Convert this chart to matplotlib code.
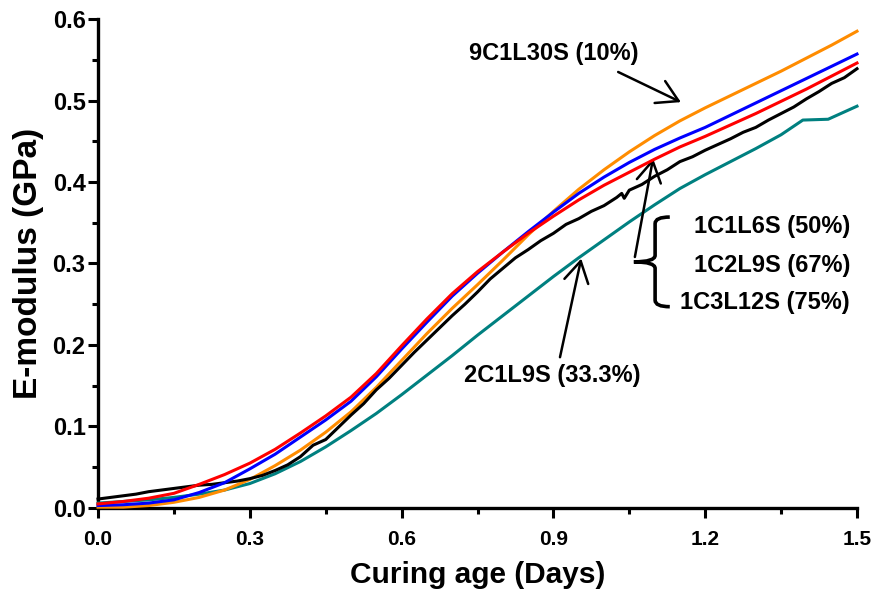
import matplotlib
matplotlib.use("Agg")
import matplotlib.pyplot as plt
from matplotlib.path import Path
from matplotlib.patches import PathPatch
from matplotlib.ticker import MultipleLocator

plt.rcParams['font.family'] = ['Liberation Sans', 'DejaVu Sans']
plt.rcParams['font.weight'] = 'bold'

# ---- data ----
x_std = [0.0, 0.05, 0.1, 0.15, 0.2, 0.25, 0.3, 0.35, 0.4, 0.45, 0.5, 0.55, 0.6,
         0.65, 0.7, 0.75, 0.8, 0.85, 0.9, 0.95, 1.0, 1.05, 1.1, 1.15, 1.2, 1.25,
         1.3, 1.35, 1.4, 1.45, 1.5]

red_1c1l6s = [0.005, 0.008, 0.012, 0.018, 0.029, 0.041, 0.055, 0.072, 0.092, 0.113,
              0.136, 0.165, 0.199, 0.232, 0.263, 0.290, 0.314, 0.337, 0.358, 0.378,
              0.396, 0.412, 0.428, 0.443, 0.456, 0.470, 0.484, 0.499, 0.514, 0.530, 0.546]

blue_1c2l9s = [0.003, 0.004, 0.006, 0.010, 0.019, 0.031, 0.048, 0.066, 0.087, 0.108,
               0.131, 0.161, 0.195, 0.228, 0.260, 0.288, 0.314, 0.339, 0.363, 0.386,
               0.406, 0.424, 0.440, 0.454, 0.467, 0.482, 0.497, 0.512, 0.527, 0.542, 0.557]

orange_9c1l30s = [0.001, 0.001, 0.003, 0.007, 0.013, 0.022, 0.035, 0.052, 0.071, 0.093,
                  0.118, 0.148, 0.181, 0.214, 0.245, 0.274, 0.304, 0.335, 0.364, 0.391,
                  0.415, 0.437, 0.457, 0.475, 0.491, 0.506, 0.521, 0.536, 0.552, 0.568, 0.585]

x_teal = [0.0, 0.05, 0.1, 0.15, 0.2, 0.25, 0.3, 0.35, 0.4, 0.45, 0.5, 0.55, 0.6,
          0.65, 0.7, 0.75, 0.8, 0.85, 0.9, 0.95, 1.0, 1.05, 1.1, 1.15, 1.2, 1.25,
          1.3, 1.35, 1.393, 1.443, 1.5]
teal_2c1l9s = [0.006, 0.008, 0.010, 0.013, 0.017, 0.022, 0.030, 0.042, 0.057, 0.075,
               0.095, 0.116, 0.139, 0.163, 0.187, 0.212, 0.236, 0.260, 0.284, 0.307,
               0.329, 0.351, 0.372, 0.392, 0.409, 0.425, 0.441, 0.458, 0.476, 0.477, 0.493]

x_black = [0.000, 0.025, 0.050, 0.075, 0.100, 0.125, 0.150, 0.175, 0.200, 0.225,
           0.250, 0.275, 0.300, 0.325, 0.350, 0.375, 0.400, 0.425, 0.450, 0.475,
           0.500, 0.525, 0.550, 0.575, 0.600, 0.625, 0.650, 0.675, 0.700, 0.725,
           0.750, 0.775, 0.800, 0.825, 0.850, 0.875, 0.900, 0.925, 0.950, 0.975,
           1.000, 1.025, 1.035, 1.040, 1.050, 1.075, 1.100, 1.125, 1.150, 1.175,
           1.200, 1.225, 1.250, 1.275, 1.300, 1.325, 1.350, 1.375, 1.400, 1.425,
           1.450, 1.475, 1.500]
black_1c3l12s = [0.011, 0.013, 0.015, 0.017, 0.020, 0.022, 0.024, 0.026, 0.028, 0.029,
                 0.031, 0.033, 0.036, 0.040, 0.046, 0.053, 0.063, 0.077, 0.084, 0.099,
                 0.114, 0.128, 0.145, 0.159, 0.175, 0.191, 0.206, 0.221, 0.236, 0.250,
                 0.265, 0.281, 0.294, 0.307, 0.317, 0.328, 0.337, 0.348, 0.355, 0.364,
                 0.371, 0.381, 0.386, 0.380, 0.390, 0.397, 0.407, 0.415, 0.425, 0.431,
                 0.439, 0.446, 0.453, 0.461, 0.467, 0.476, 0.484, 0.492, 0.502, 0.511,
                 0.521, 0.528, 0.539]

x_ticks = [0.0, 0.3, 0.6, 0.9, 1.2, 1.5]
y_ticks = [0.0, 0.1, 0.2, 0.3, 0.4, 0.5, 0.6]

# ---- figure ----
fig = plt.figure(figsize=(8.76, 5.92), dpi=100)
ax = fig.add_axes([0.1119, 0.1419, 0.8664, 0.826])

lw = 2.2
ax.plot(x_teal, teal_2c1l9s, color='#008080', lw=lw, zorder=3, clip_on=False)
ax.plot(x_std, orange_9c1l30s, color='#FF8C00', lw=lw, zorder=4, clip_on=False)
ax.plot(x_black, black_1c3l12s, color='black', lw=lw, zorder=5, clip_on=False)
ax.plot(x_std, blue_1c2l9s, color='#0000FF', lw=lw, zorder=6, clip_on=False)
ax.plot(x_std, red_1c1l6s, color='#FF0000', lw=lw, zorder=7, clip_on=False)

ax.set_xlim(0, 1.5)
ax.set_ylim(0, 0.6)
ax.set_xticks(x_ticks)
ax.set_yticks(y_ticks)
ax.set_xticklabels([f"{v:.1f}" for v in x_ticks], fontsize=15, fontweight='bold')
ax.set_yticklabels([f"{v:.1f}" for v in y_ticks], fontsize=17, fontweight='bold')
ax.xaxis.set_minor_locator(MultipleLocator(0.15))
ax.yaxis.set_minor_locator(MultipleLocator(0.05))
ax.tick_params(which='major', direction='out', length=7, width=2.2)
ax.tick_params(axis='x', which='major', pad=8.5)
ax.tick_params(axis='y', which='major', pad=2)
ax.tick_params(which='minor', direction='out', length=4.5, width=2.2)

for s in ['top', 'right']:
    ax.spines[s].set_visible(False)
for s in ['left', 'bottom']:
    ax.spines[s].set_linewidth(2.4)

ax.set_xlabel('Curing age (Days)', fontsize=21.5, fontweight='bold', labelpad=9)
ax.set_ylabel('E-modulus (GPa)', fontsize=24, fontweight='bold', labelpad=6)

# ---- annotations ----
astyle = dict(arrowstyle='->,head_length=0.6,head_width=0.35', lw=1.8,
              color='black', mutation_scale=25, shrinkA=0, shrinkB=0)
tfs = 17
ax.text(0.901, 0.558, '9C1L30S (10%)', fontsize=tfs, fontweight='bold',
        ha='center', va='center')
ax.annotate('', xy=(1.152, 0.498), xytext=(1.028, 0.535), arrowprops=astyle)

ax.text(0.897, 0.163, '2C1L9S (33.3%)', fontsize=tfs, fontweight='bold',
        ha='center', va='center')
ax.annotate('', xy=(0.955, 0.306), xytext=(0.913, 0.185), arrowprops=astyle)

ax.text(1.486, 0.346, '1C1L6S (50%)', fontsize=tfs, fontweight='bold',
        ha='right', va='center')
ax.text(1.486, 0.298, '1C2L9S (67%)', fontsize=tfs, fontweight='bold',
        ha='right', va='center')
ax.text(1.486, 0.252, '1C3L12S (75%)', fontsize=tfs, fontweight='bold',
        ha='right', va='center')
ax.annotate('', xy=(1.097, 0.429), xytext=(1.061, 0.308), arrowprops=astyle)

# curly brace
verts = [(1.130, 0.357), (1.101, 0.357), (1.101, 0.349),
         (1.101, 0.310),
         (1.101, 0.302), (1.059, 0.302),
         (1.101, 0.302), (1.101, 0.294),
         (1.101, 0.255),
         (1.101, 0.247), (1.130, 0.247)]
codes = [Path.MOVETO, Path.CURVE3, Path.CURVE3,
         Path.LINETO,
         Path.CURVE3, Path.CURVE3,
         Path.CURVE3, Path.CURVE3,
         Path.LINETO,
         Path.CURVE3, Path.CURVE3]
ax.add_patch(PathPatch(Path(verts, codes), fill=False, lw=2.6, edgecolor='black',
                       capstyle='butt', clip_on=False))

fig.savefig('out.png', dpi=100)
